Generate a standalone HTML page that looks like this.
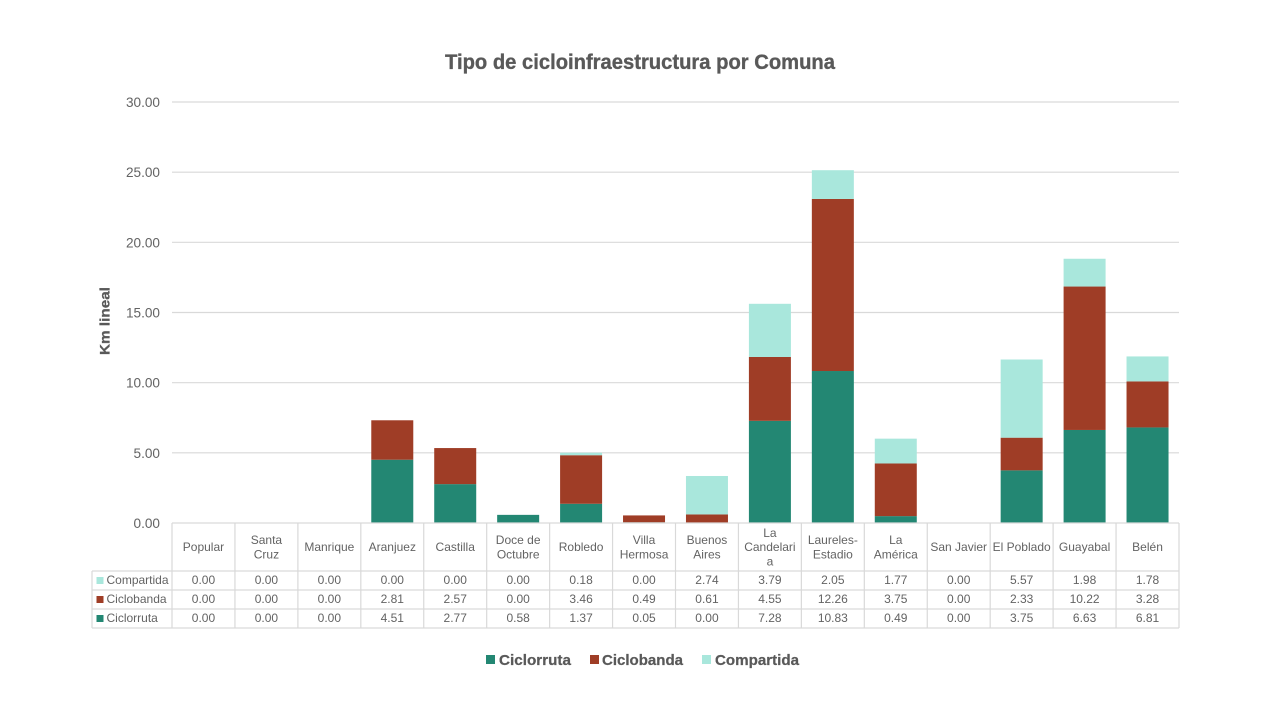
<!DOCTYPE html>
<html lang="es">
<head>
<meta charset="utf-8">
<title>Tipo de cicloinfraestructura por Comuna</title>
<style>
html,body{margin:0;padding:0;background:#fff;width:1280px;height:720px;overflow:hidden}
svg{display:block;font-family:"Liberation Sans",sans-serif}
</style>
</head>
<body>
<svg id="chart" width="1280" height="720" viewBox="0 0 1280 720" xmlns="http://www.w3.org/2000/svg">
  <rect width="1280" height="720" fill="#fff"/>
  <text x="640" y="69" text-anchor="middle" font-size="21" font-weight="700" fill="#595959" stroke="#595959" stroke-width="0.35" textLength="390" lengthAdjust="spacingAndGlyphs">Tipo de cicloinfraestructura por Comuna</text>
  <text transform="translate(109.5,321) rotate(-90)" text-anchor="middle" font-size="14" font-weight="700" fill="#595959" stroke="#595959" stroke-width="0.25" textLength="68" lengthAdjust="spacingAndGlyphs">Km lineal</text>
  <g id="grid"></g>
  <g id="bars"></g>
  <g id="table"></g>
  <g id="legend"></g>
</svg>
<script>
const categories = ["Popular","Santa\nCruz","Manrique","Aranjuez","Castilla","Doce de\nOctubre","Robledo","Villa\nHermosa","Buenos\nAires","La\nCandelari\na","Laureles-\nEstadio","La\nAmérica","San Javier","El Poblado","Guayabal","Belén"];
const ciclorruta = [0,0,0,4.51,2.77,0.58,1.37,0.05,0,7.28,10.83,0.49,0,3.75,6.63,6.81];
const ciclobanda = [0,0,0,2.81,2.57,0,3.46,0.49,0.61,4.55,12.26,3.75,0,2.33,10.22,3.28];
const compartida = [0,0,0,0,0,0,0.18,0,2.74,3.79,2.05,1.77,0,5.57,1.98,1.78];
const yTicks = [0,5,10,15,20,25,30];

const NS = "http://www.w3.org/2000/svg";
const plotLeft = 172, plotRight = 1179, plotBottom = 523, plotTop = 102, yMax = 30;
const tableLeft = 92, headerBottom = 571, rowH = 19;
const colW = (plotRight - plotLeft) / categories.length;
const barW = 42;
const gridColor = "#d9d9d9", textColor = "#636363";
const colors = {ciclorruta:"#238773", ciclobanda:"#9f3d26", compartida:"#a9e7dc"};

const xScale = i => plotLeft + i * colW;
const yScale = v => plotBottom - (v / yMax) * (plotBottom - plotTop);

function make(tag, attrs, parent, text) {
  const el = document.createElementNS(NS, tag);
  for (const k in attrs) el.setAttribute(k, attrs[k]);
  if (text !== undefined) el.textContent = text;
  parent.appendChild(el);
  return el;
}

const grid = document.getElementById("grid");
yTicks.forEach(t => {
  const y = yScale(t);
  if (t > 0) {
    const line = make("line", {x1:plotLeft, x2:plotRight, y1:y, y2:y, stroke:gridColor, "stroke-width":1.2}, grid);
    
    
  }
  const lab = make("text", {x:160, y:y + 5, "text-anchor":"end", "font-size":13.6, fill:textColor}, grid, t.toFixed(2));
  
  
});

const stack = [["ciclorruta", ciclorruta], ["ciclobanda", ciclobanda], ["compartida", compartida]];
const bars = document.getElementById("bars");
categories.forEach((c, i) => {
  let base = 0;
  stack.forEach(([name, vals]) => {
    const v = vals[i];
    if (v > 0) {
      const top = yScale(base + v), bottom = yScale(base);
      const r = make("rect", {x:xScale(i) + (colW - barW) / 2, y:top, width:barW, height:bottom - top, fill:colors[name]}, bars);
      
      
    }
    base += v;
  });
});

const table = document.getElementById("table");
const tableLines = [];
tableLines.push([plotLeft, plotBottom, plotRight, plotBottom]);
for (let r = 0; r <= 3; r++) {
  const y = headerBottom + r * rowH;
  tableLines.push([tableLeft, y, plotRight, y]);
}
tableLines.push([tableLeft, headerBottom, tableLeft, headerBottom + 3 * rowH]);
for (let i = 0; i <= categories.length; i++) {
  const x = xScale(i);
  tableLines.push([x, plotBottom, x, headerBottom + 3 * rowH]);
}
tableLines.forEach(p => {
  const l = make("line", {x1:p[0], y1:p[1], x2:p[2], y2:p[3], stroke:gridColor, "stroke-width":1.2}, table);
  
  
});

categories.forEach((c, i) => {
  const lines = c.split("\n");
  const lh = 14.3;
  const cx = xScale(i) + colW / 2;
  const startY = 547 - (lines.length - 1) * lh / 2 + 4.2;
  lines.forEach((ln, k) => {
    const t = make("text", {x:cx, y:startY + k * lh, "text-anchor":"middle", "font-size":12, fill:textColor}, table, ln);
    
    
  });
});

const rows = [["Compartida", compartida, colors.compartida], ["Ciclobanda", ciclobanda, colors.ciclobanda], ["Ciclorruta", ciclorruta, colors.ciclorruta]];
rows.forEach(([label, vals, col], r) => {
  const cy = headerBottom + r * rowH + rowH / 2;
  const key = make("rect", {x:96.5, y:cy - 3.5, width:7, height:7, fill:col}, table);
  
  
  const lab = make("text", {x:106.5, y:cy + 3.7, "font-size":12, fill:textColor}, table, label);
  
  
  vals.forEach((v, i) => {
    const t = make("text", {x:xScale(i) + colW / 2, y:cy + 3.7, "text-anchor":"middle", "font-size":12, fill:textColor}, table, v.toFixed(2));
    
    
  });
});

const legend = document.getElementById("legend");
const legendItems = [["Ciclorruta", colors.ciclorruta, 486, 499, 72], ["Ciclobanda", colors.ciclobanda, 590, 602, 81], ["Compartida", colors.compartida, 702, 715, 84]];
legendItems.forEach(([label, col, kx, tx, w]) => {
  const k = make("rect", {x:kx, y:655, width:9, height:9, fill:col}, legend);
  
  
  const t = make("text", {x:tx, y:665, "font-size":15, "font-weight":700, fill:"#595959", stroke:"#595959", "stroke-width":0.25, textLength:w, lengthAdjust:"spacingAndGlyphs"}, legend, label);
  
  
});
</script>
</body>
</html>
